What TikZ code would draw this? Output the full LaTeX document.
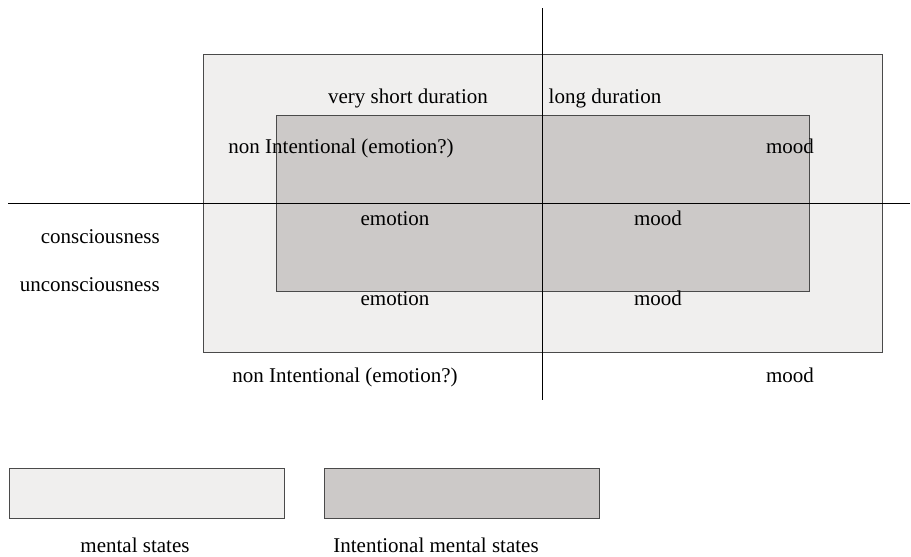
\documentclass[tikz,border=0pt]{standalone}
\usepackage{fontspec}
\setmainfont{Liberation Serif}
\definecolor{outerfill}{HTML}{F0EFEE}
\definecolor{innerfill}{HTML}{CCC9C8}
\definecolor{edge}{HTML}{4A4A4A}
\begin{document}
\begin{tikzpicture}[x=1pt,y=-1pt,
  lbl/.style={font=\fontsize{21}{24}\selectfont, inner sep=0pt, anchor=base},
  rlbl/.style={lbl, anchor=base east},
  rectline/.style={draw=edge, line width=0.9pt},
  axisline/.style={draw=black, line width=0.9pt}]
\useasboundingbox (0,0) rectangle (911,557);
% boxes
\path[rectline, fill=outerfill] (203,54) rectangle (882,352);
\path[rectline, fill=innerfill] (276,115) rectangle (809,291);
% axes
\coordinate (vt) at (542,8);
\coordinate (vb) at (542,400);
\coordinate (hl) at (8,203);
\coordinate (hr) at (910,203);
\draw[axisline] (vt) -- (vb);
\draw[axisline] (hl) -- (hr);
% labels
\node[lbl] (vsd) at (408,103) {very short duration};
\node[lbl] (ld) at (605,103) {long duration};
\node[lbl] (ni1) at (341,153) {non Intentional (emotion?)};
\node[lbl] (m1) at (790,153) {mood};
\node[lbl] (e1) at (395,225) {emotion};
\node[lbl] (m2) at (658,225) {mood};
\node[rlbl] (con) at (160,243) {consciousness};
\node[rlbl] (uncon) at (160,291) {unconsciousness};
\node[lbl] (e2) at (395,305) {emotion};
\node[lbl] (m3) at (658,305) {mood};
\node[lbl] (ni2) at (345,382) {non Intentional (emotion?)};
\node[lbl] (m4) at (790,382) {mood};
% legend
\path[rectline, fill=outerfill] (9,468) rectangle (284,518);
\path[rectline, fill=innerfill] (324,468) rectangle (599,518);
\node[lbl] (ms) at (135,552) {mental states};
\node[lbl] (ims) at (436,552) {Intentional mental states};
\end{tikzpicture}
\end{document}
